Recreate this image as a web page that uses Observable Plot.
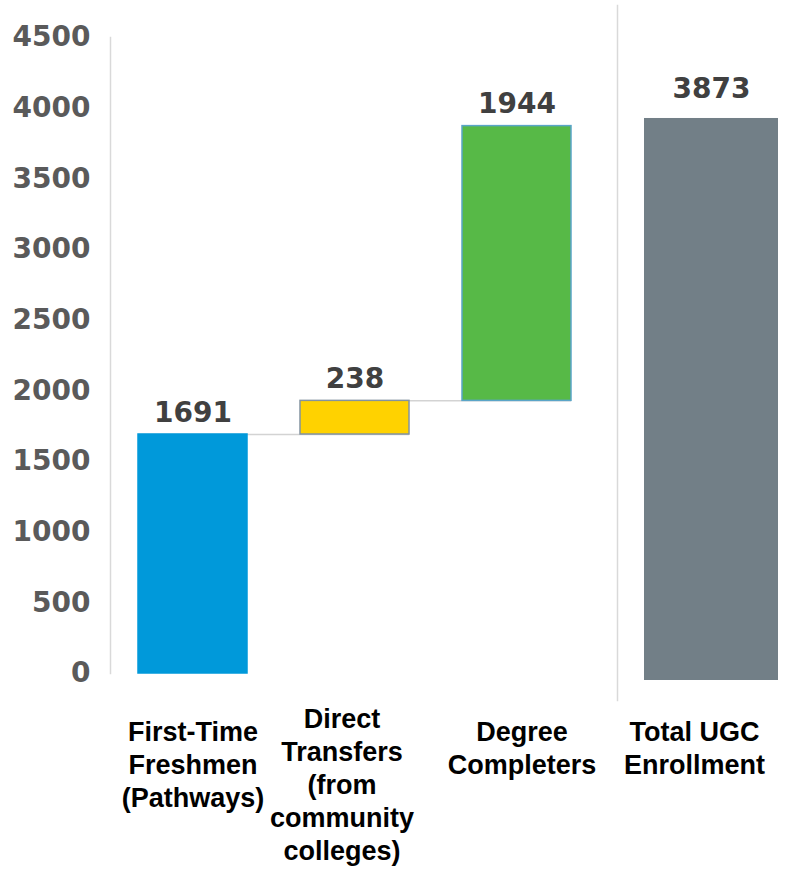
<!DOCTYPE html>
<html><head><meta charset="utf-8">
<script src="https://cdn.jsdelivr.net/npm/d3@7"></script>
<script src="https://cdn.jsdelivr.net/npm/@observablehq/plot@0.6"></script>
<style>
body{margin:0;background:#fff;}
#wrap{position:relative;width:788px;height:876px;overflow:hidden;}
#wrap svg{position:absolute;left:0;top:0;}
</style></head><body><div id="wrap"></div>
<script>
// ---- data ----
const categories = ["First-Time\nFreshmen\n(Pathways)", "Direct\nTransfers\n(from\ncommunity\ncolleges)", "Degree\nCompleters"];
const values = [1691, 238, 1944];
const fills = ["#0099da", "#ffd200", "#57b947"];
const strokes = ["#0099da", "#8393a0", "#5aa5c8"];
const totalCategory = ["Total UGC\nEnrollment"];
const totalValue = [3873];
const totalFill = "#727f87";
const yTicks = [0, 500, 1000, 1500, 2000, 2500, 3000, 3500, 4000, 4500];

// ---- derived waterfall table ----
let cum = 0;
const steps = categories.map((c, i) => {
  const start = cum; cum += values[i];
  return {category: c, start, end: cum, value: values[i], fill: fills[i], stroke: strokes[i]};
});
const connectors = steps.slice(0, -1).map((d, i) => ({from: d.category, to: steps[i + 1].category, y: d.end}));
const totals = totalCategory.map((c, i) => ({category: c, value: totalValue[i]}));

const valueFont = {fontFamily: "DejaVu Sans", fontWeight: "bold", fontSize: 28};
const catFont = {fontFamily: "Liberation Sans, Arial, sans-serif", fontWeight: "bold", fontSize: 27, fill: "#000", lineHeight: 1.22, tickSize: 0, lineAnchor: "top", label: null};

const main = Plot.plot({
  width: 788, height: 876,
  marginLeft: 110, marginRight: 190, marginTop: 37, marginBottom: 203,
  style: {background: "transparent", overflow: "visible"},
  x: {domain: categories, paddingInner: 0.33, paddingOuter: 0.165, label: null},
  y: {domain: [0, 4500], label: null},
  color: {type: "identity"},
  marks: [
    Plot.frame({anchor: "left", stroke: "#d9d9d9", strokeWidth: 1.5}),
    Plot.ruleY(connectors, {x1: "from", x2: "to", y: "y", stroke: "#d3d3d3", strokeWidth: 1.5}),
    Plot.barY(steps, {x: "category", y1: "start", y2: "end", fill: "fill", stroke: "stroke", strokeWidth: 1.5}),
    Plot.text(steps, {x: "category", y: "end", text: d => String(d.value), lineAnchor: "bottom", dy: -13, fill: "#404040", ...valueFont}),
    Plot.axisY({ticks: yTicks, tickFormat: d => String(d), tickSize: 0, tickPadding: 20, fill: "#5a5a5a", label: null, ...valueFont}),
    Plot.axisX({ticks: [categories[0]], tickPadding: 44, ...catFont}),
    Plot.axisX({ticks: [categories[1]], tickPadding: 31, dx: -13, ...catFont}),
    Plot.axisX({ticks: [categories[2]], tickPadding: 44, dx: 5, ...catFont})
  ]
});

const side = Plot.plot({
  width: 788, height: 876,
  marginLeft: 617, marginRight: 0, marginTop: 5, marginBottom: 176,
  style: {background: "transparent", overflow: "visible"},
  x: {domain: totalCategory, padding: 0.118, align: 0.72, label: null},
  y: {domain: [0, 4500], range: [680, 27], axis: null},
  marks: [
    Plot.frame({anchor: "left", stroke: "#d9d9d9", strokeWidth: 1.5}),
    Plot.barY(totals, {x: "category", y: "value", fill: totalFill}),
    Plot.text(totals, {x: "category", y: "value", text: d => String(d.value), lineAnchor: "bottom", dy: -20, fill: "#404040", ...valueFont}),
    Plot.axisX({tickPadding: 17, dx: -17, ...catFont})
  ]
});

const wrap = document.getElementById("wrap");
wrap.appendChild(main);
wrap.appendChild(side);
</script></body></html>
